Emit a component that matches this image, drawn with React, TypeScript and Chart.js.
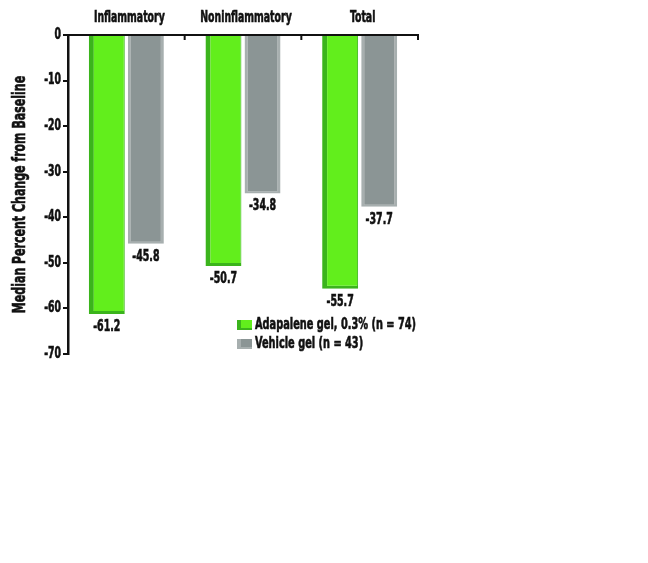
import React, { useEffect, useRef } from "react";
import { Chart, registerables } from "chart.js";

Chart.register(...registerables);

const categories = ["Inflammatory", "Noninflammatory", "Total"];
const adapaleneValues = [-61.2, -50.7, -55.7];
const vehicleValues = [-45.8, -34.8, -37.7];
const seriesLabels = ["Adapalene gel, 0.3% (n = 74)", "Vehicle gel (n = 43)"];
const yTitle = "Median Percent Change from Baseline";

const FONT = "'DejaVu Sans Condensed', 'DejaVu Sans', sans-serif";

function drawCondensed(ctx: any, text: string, x: number, y: number, size: number, align: string, sx: number) {
  ctx.save();
  ctx.font = `bold ${size}px ${FONT}`;
  ctx.textAlign = align;
  ctx.textBaseline = "middle";
  ctx.fillStyle = "#111";
  ctx.strokeStyle = "#111";
  ctx.lineWidth = 0.6;
  ctx.translate(x, y);
  ctx.scale(sx, 1);
  ctx.fillText(text, 0, 0);
  ctx.strokeText(text, 0, 0);
  ctx.restore();
}

const textPlugin = {
  id: "condensedText",
  afterDraw(chart: any) {
    const ctx = chart.ctx;
    const ca = chart.chartArea;
    const xs = chart.scales.x;
    const ys = chart.scales.y;
    ctx.save();

    // category labels along the top
    chart.data.labels.forEach((lab: string, i: number) => {
      drawCondensed(ctx, lab, xs.getPixelForTick(i) + 3, ca.top - 17, 16, "center", 0.65);
    });

    // y tick labels
    ys.ticks.forEach((t: any) => {
      drawCondensed(ctx, String(t.value), ca.left - 7, ys.getPixelForValue(t.value), 15, "right", 0.69);
    });

    // y title
    ctx.save();
    ctx.translate(12, (ca.top + ca.bottom) / 2);
    ctx.rotate(-Math.PI / 2);
    drawCondensed(ctx, yTitle, 0, 0, 18, "center", 0.68);
    ctx.restore();

    // value labels
    chart.data.datasets.forEach((ds: any, i: number) => {
      const meta = chart.getDatasetMeta(i);
      meta.data.forEach((bar: any, j: number) => {
        drawCondensed(ctx, Number(ds.data[j]).toFixed(1), bar.x, bar.y + 13, 15, "center", 0.7);
      });
    });

    // top axis tick marks at category boundaries
    const n = chart.data.labels.length;
    const w = (xs.right - xs.left) / n;
    ctx.strokeStyle = "#111";
    ctx.lineWidth = 2;
    for (let i = 1; i <= n; i++) {
      const px = xs.left + i * w;
      ctx.beginPath();
      ctx.moveTo(px, ca.top);
      ctx.lineTo(px, ca.top + 5);
      ctx.stroke();
    }

    // legend
    const x0 = ca.left + 169;
    const y0 = ca.bottom - 29;
    chart.data.datasets.forEach((ds: any, i: number) => {
      const y = y0 + i * 19;
      ctx.fillStyle = ds.backgroundColor;
      ctx.fillRect(x0, y - 5, 15, 10);
      ctx.fillStyle = ds.borderColor;
      ctx.fillRect(x0, y - 5, 4, 10);
      ctx.fillRect(x0, y + 3, 15, 2);
      drawCondensed(ctx, ds.label, x0 + 18, y, 16, "left", 0.68);
    });
    ctx.restore();
  },
};

export default function App() {
  const ref = useRef<HTMLCanvasElement | null>(null);
  useEffect(() => {
    if (!ref.current) return;
    const chart = new Chart(ref.current, {
      type: "bar",
      data: {
        labels: categories,
        datasets: [
          {
            label: seriesLabels[0],
            data: adapaleneValues,
            backgroundColor: "#62ee1c",
            borderColor: "#3bb41c",
            borderWidth: { left: 5, right: 1, bottom: 3, top: 0 },
            borderSkipped: false,
          },
          {
            label: seriesLabels[1],
            data: vehicleValues,
            backgroundColor: "#8b9595",
            borderColor: "#a7afaf",
            borderWidth: { left: 3, right: 3, bottom: 2, top: 0 },
            borderSkipped: false,
          },
        ],
      },
      options: {
        animation: false,
        responsive: false,
        layout: { padding: { top: 0, right: 230, bottom: 209, left: 0 } },
        categoryPercentage: 0.67,
        barPercentage: 0.92,
        plugins: { legend: { display: false }, tooltip: { enabled: false } },
        scales: {
          x: {
            position: "top",
            grid: { display: false, drawTicks: false },
            border: { display: true, color: "#111", width: 2 },
            ticks: { display: false, autoSkip: false },
            afterFit(scale: any) {
              scale.height = 27;
            },
          },
          y: {
            min: -70,
            max: 0,
            ticks: { stepSize: 10, display: false },
            grid: {
              display: true,
              drawOnChartArea: false,
              drawTicks: true,
              tickLength: 5,
              color: "#111",
              lineWidth: 2,
            },
            border: { display: true, color: "#111", width: 2.5 },
            title: { display: false, text: yTitle },
            afterFit(scale: any) {
              scale.width = 60;
            },
          },
        },
      },
      plugins: [textPlugin],
    } as any);
    return () => chart.destroy();
  }, []);
  return (
    <div style={{ width: 640, height: 555 }}>
      <canvas ref={ref} width={640} height={555} style={{ width: 640, height: 555 }} />
    </div>
  );
}
